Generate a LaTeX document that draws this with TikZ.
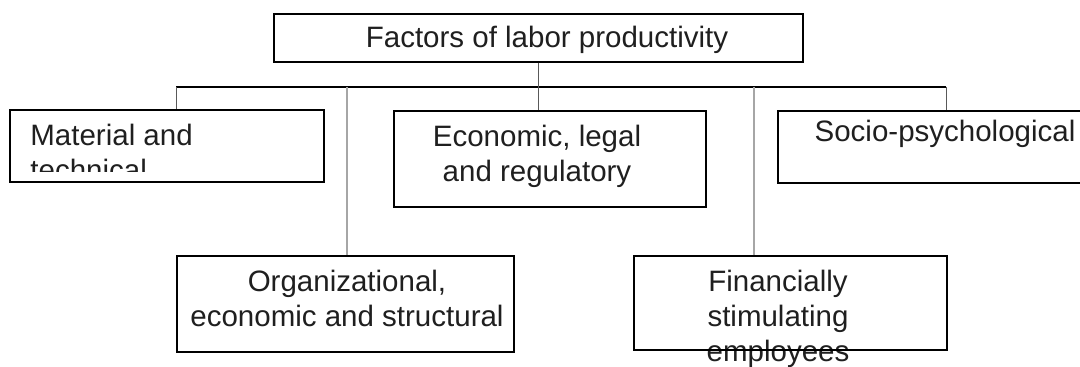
\documentclass[tikz,border=0pt]{standalone}
\usepackage{fontspec}
\setmainfont{Liberation Sans}

\begin{document}
\begin{tikzpicture}[x=0.5pt, y=-0.5pt,
    box/.style={draw=black, line width=0.8pt, inner sep=0pt, anchor=north west},
    txt/.style={inner sep=0pt, align=center, anchor=base, text=black!88,
        font=\fontsize{14.75pt}{17.5pt}\selectfont},
    link/.style={draw=black!65, line width=0.5pt},
    longlink/.style={draw=black!35, line width=0.8pt},
    bus/.style={draw=black, line width=1.1pt}]
                \useasboundingbox (0,0) rectangle (1080,367);
                % texts (base = last line)
                \node[txt] (topText) at (547,48) {Factors of labor productivity};
                \begin{scope}
                    \clip (9,109) rectangle (323,172);
                    \node[txt, align=left, anchor=base west] (matText) at (30,181) {Material and\\technical};
                \end{scope}
                \node[txt] (ecoText) at (537,182) {Economic, legal\\and regulatory};
                \node[txt] (socText) at (945,142) {Socio-psychological};
                \node[txt] (orgText) at (347,327) {Organizational,\\economic and structural};
                \node[txt] (finText) at (778,362) {Financially\\stimulating\\employees};
                % boxes
                \node[box, minimum width=264.5pt, minimum height=24pt] (top) at (273,13) {};
                \node[box, minimum width=157pt, minimum height=36pt] (mat) at (9,109) {};
                \node[box, minimum width=156pt, minimum height=48pt] (eco) at (393,110) {};
                \node[box, minimum width=154pt, minimum height=36pt] (soc) at (777,110) {};
                \node[box, minimum width=168.5pt, minimum height=48pt] (org) at (176,255) {};
                \node[box, minimum width=156.5pt, minimum height=47pt] (fin) at (633,255) {};
                % bus and taps
                \coordinate (tmat) at (176,87);
                \coordinate (torg) at (347,87);
                \coordinate (teco) at (538,87);
                \coordinate (tfin) at (754,87);
                \coordinate (tsoc) at (946,87);
                \draw[bus] (tmat) -- (tsoc);
                \draw[link] (top.south) -- (top.south |- tmat);
                \foreach \b in {mat,eco,soc} {
                    \draw[link] (t\b) -- (t\b |- \b.north);
                }
                \foreach \b in {org,fin} {
                    \draw[longlink] (t\b) -- (t\b |- \b.north);
                }
            \end{tikzpicture}
\end{document}
